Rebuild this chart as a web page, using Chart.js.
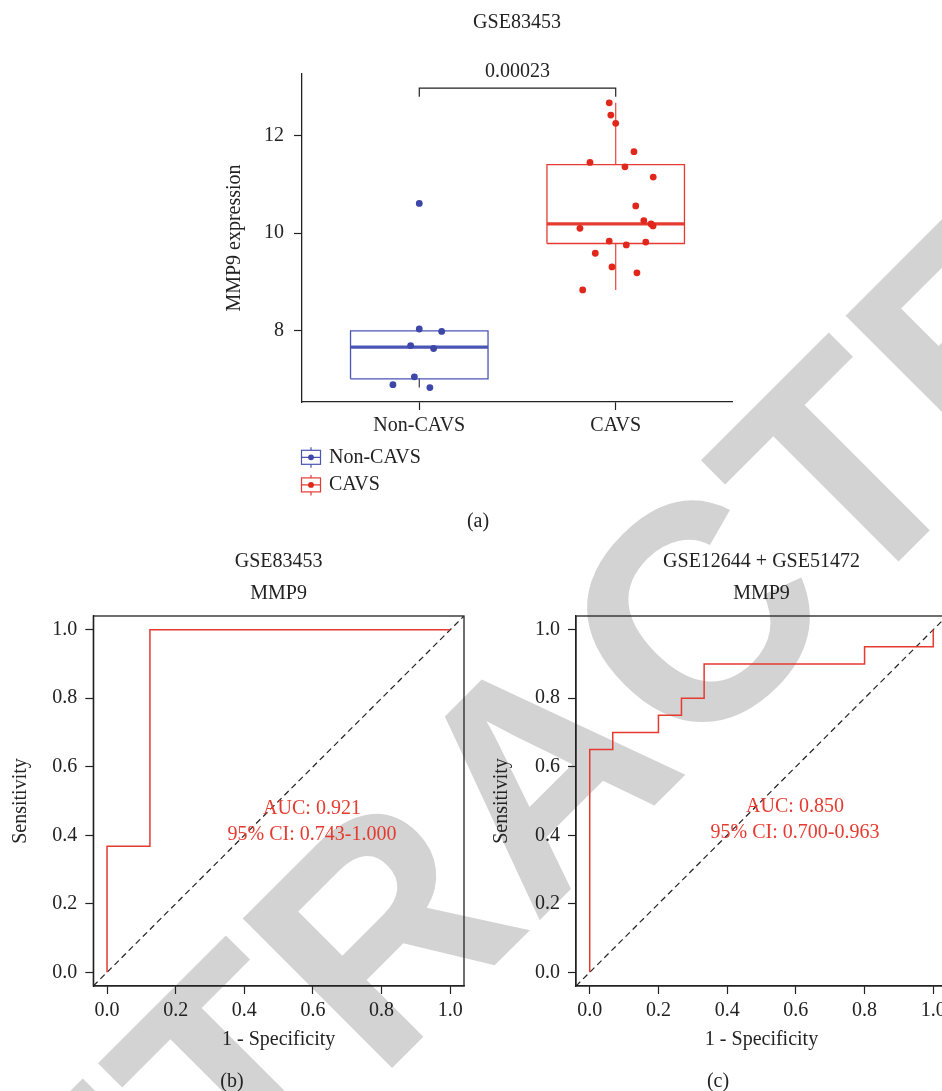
<!DOCTYPE html>
<html lang="en">
<head>
<meta charset="UTF-8">
<title>MMP9 expression and ROC curves</title>
<script src="https://cdn.jsdelivr.net/npm/chart.js"></script>
<style>
  html, body { margin: 0; padding: 0; overflow: hidden; background: #fff; }
  body { width: 942px; height: 1091px; position: relative; }
  canvas { position: absolute; }
</style>
</head>
<body>
<canvas id="watermark" width="942" height="1091" style="left:0;top:0"></canvas>
<canvas id="boxChart" width="942" height="540" style="left:0;top:0"></canvas>
<canvas id="rocB" width="471" height="551" style="left:0;top:540px"></canvas>
<canvas id="rocC" width="480" height="551" style="left:480px;top:540px"></canvas>

<script>
// ---- panel (a) data: MMP9 expression per sample, x jitter
const groups = ['Non-CAVS', 'CAVS'];
const nonCavsExpr = [10.61, 8.04, 7.99, 7.70, 7.64, 7.06, 6.90, 6.84];
const nonCavsJitter = [1.0, 1.0, 1.114, 0.956, 1.073, 0.975, 0.866, 1.054];
const cavsExpr = [12.67, 12.42, 12.25, 11.67, 11.45, 11.36, 11.15, 10.56, 10.26, 10.19,
                  10.15, 10.10, 9.84, 9.82, 9.76, 9.59, 9.31, 9.19, 8.84];
const cavsJitter = [1.967, 1.975, 2.0, 2.093, 1.869, 2.047, 2.191, 2.102, 2.143, 2.180,
                    2.190, 1.818, 1.967, 2.153, 2.054, 1.896, 1.981, 2.108, 1.832];
const exprTicks = [8, 10, 12];
const pValue = '0.00023';

// ---- panels (b) and (c): ROC coordinates (1 - specificity, sensitivity)
const rocTicks = [0, 0.2, 0.4, 0.6, 0.8, 1.0];
const rocB_fpr = [0, 0, 0.125, 0.125, 1];
const rocB_tpr = [0, 0.368, 0.368, 1, 1];
const rocC_fpr = [0, 0, 0.067, 0.067, 0.2, 0.2, 0.267, 0.267, 0.333, 0.333, 0.8, 0.8, 1, 1];
const rocC_tpr = [0, 0.65, 0.65, 0.7, 0.7, 0.75, 0.75, 0.8, 0.8, 0.9, 0.9, 0.95, 0.95, 1];

const pointColors = ['#3d47a8', '#e1261c'];
const boxColors = ['#4a56b4', '#e53b32'];
const whiskerColors = ['#3a3a52', '#e5463d'];
const textColor = '#222';
const rocRed = '#e53a30';

Chart.defaults.font.family = '"Liberation Serif", "DejaVu Serif", serif';
Chart.defaults.font.size = 20;
Chart.defaults.color = textColor;

// R quantile type 7
function quantile(sorted, p) {
    const h = (sorted.length - 1) * p;
    const lo = Math.floor(h);
    const hi = Math.min(lo + 1, sorted.length - 1);
    return sorted[lo] + (h - lo) * (sorted[hi] - sorted[lo]);
}

function boxStats(values) {
    const s = [...values].sort((a, b) => a - b);
    const q1 = quantile(s, 0.25), med = quantile(s, 0.5), q3 = quantile(s, 0.75);
    const iqr = q3 - q1;
    const lo = Math.min(...s.filter(v => v >= q1 - 1.5 * iqr));
    const hi = Math.max(...s.filter(v => v <= q3 + 1.5 * iqr));
    return { q1, med, q3, lo, hi };
}

function lineSet(data, color, width, dash) {
    return {
        type: 'scatter', data, showLine: true, borderColor: color, borderWidth: width,
        borderDash: dash || [], pointRadius: 0, fill: false, tension: 0
    };
}

// draw plain text items (titles, captions) on a chart
const textPlugin = {
    id: 'texts',
    afterDraw(chart, args, opts) {
        const ctx = chart.ctx;
        (opts.items || []).forEach(it => {
            const pos = typeof it.at === 'function' ? it.at(chart) : it.at;
            ctx.save();
            ctx.font = '20px "Liberation Serif"';
            ctx.fillStyle = it.color || textColor;
            ctx.textAlign = 'center';
            ctx.textBaseline = 'middle';
            ctx.fillText(it.text, pos[0], pos[1]);
            ctx.restore();
        });
    }
};

// ---- watermark behind all panels
(function () {
    const wm = document.getElementById('watermark').getContext('2d');
    wm.fillStyle = '#d3d3d3';
    wm.font = 'bold 307px "Liberation Sans"';
    wm.textAlign = 'center';
    wm.textBaseline = 'alphabetic';
    wm.translate(612.7, 847.3);
    wm.rotate(-Math.PI / 4);
    wm.fillText('RETRACTED', 0, 0);
})();

// ---- panel (a)
const exprByGroup = [nonCavsExpr, cavsExpr];
const jitterByGroup = [nonCavsJitter, cavsJitter];
const boxHalf = 0.35;

const boxDatasets = [];
groups.forEach((g, i) => {
    boxDatasets.push({
        type: 'scatter',
        data: exprByGroup[i].map((v, k) => ({ x: jitterByGroup[i][k], y: v })),
        pointRadius: 3.4, pointBorderWidth: 0, pointBackgroundColor: pointColors[i]
    });
});
groups.forEach((g, i) => {
    const c = i + 1, st = boxStats(exprByGroup[i]);
    boxDatasets.push(lineSet([{ x: c - boxHalf, y: st.med }, { x: c + boxHalf, y: st.med }], boxColors[i], 3.3));
    boxDatasets.push(lineSet([
        { x: c - boxHalf, y: st.q1 }, { x: c + boxHalf, y: st.q1 }, { x: c + boxHalf, y: st.q3 },
        { x: c - boxHalf, y: st.q3 }, { x: c - boxHalf, y: st.q1 }], boxColors[i], 1.3));
    boxDatasets.push(lineSet([{ x: c, y: st.q3 }, { x: c, y: st.hi }], whiskerColors[i], 1.2));
    boxDatasets.push(lineSet([{ x: c, y: st.q1 }, { x: c, y: st.lo }], whiskerColors[i], 1.2));
});

const bracketPlugin = {
    id: 'bracket',
    afterDraw(chart) {
        const ctx = chart.ctx, xs = chart.scales.x, ys = chart.scales.y;
        const x1 = xs.getPixelForValue(1), x2 = xs.getPixelForValue(2);
        const yb = ys.getPixelForValue(12.97);
        ctx.save();
        ctx.strokeStyle = textColor; ctx.lineWidth = 1.2;
        ctx.beginPath();
        ctx.moveTo(x1, yb + 8.5); ctx.lineTo(x1, yb); ctx.lineTo(x2, yb); ctx.lineTo(x2, yb + 8.5);
        ctx.stroke();
        ctx.font = '20px "Liberation Serif"'; ctx.fillStyle = textColor;
        ctx.textAlign = 'center'; ctx.textBaseline = 'middle';
        ctx.fillText(pValue, (x1 + x2) / 2, yb - 16.5);
        ctx.restore();
    }
};

const legendPlugin = {
    id: 'groupLegend',
    afterDraw(chart) {
        const ctx = chart.ctx;
        groups.forEach((g, i) => {
            const cy = 457.3 + i * 27.6, cx = 311;
            ctx.save();
            ctx.strokeStyle = boxColors[i]; ctx.lineWidth = 1.2;
            ctx.strokeRect(301.5, cy - 7, 19, 14);
            ctx.beginPath();
            ctx.moveTo(cx, cy - 10); ctx.lineTo(cx, cy - 7);
            ctx.moveTo(cx, cy + 7); ctx.lineTo(cx, cy + 10.5);
            ctx.moveTo(301.5, cy); ctx.lineTo(320.5, cy);
            ctx.stroke();
            ctx.fillStyle = pointColors[i];
            ctx.beginPath(); ctx.arc(cx, cy, 2.9, 0, 2 * Math.PI); ctx.fill();
            ctx.fillStyle = textColor; ctx.font = '20px "Liberation Serif"';
            ctx.textAlign = 'left'; ctx.textBaseline = 'middle';
            ctx.fillText(g, 329, cy);
            ctx.restore();
        });
    }
};

const axisGrid = { display: true, drawOnChartArea: false, drawTicks: true, tickLength: 8, tickColor: textColor, tickWidth: 1.2 };
const axisBorder = { display: true, color: textColor, width: 1.3 };

new Chart(document.getElementById('boxChart'), {
    type: 'scatter',
    data: { datasets: boxDatasets },
    options: {
        responsive: false, animation: false, events: [], devicePixelRatio: 1,
        layout: { padding: { left: 200, right: 210, top: 74, bottom: 98 } },
        plugins: {
            legend: { display: false }, tooltip: { enabled: false },
            texts: { items: [
                { text: 'GSE83453', at: c => [(c.chartArea.left + c.chartArea.right) / 2, 22.5] },
                { text: '(a)', at: [478, 522] }
            ] }
        },
        scales: {
            x: {
                type: 'linear', min: 0.403, max: 2.592,
                afterBuildTicks: s => { s.ticks = groups.map((g, i) => ({ value: i + 1 })); },
                afterFit: s => { s.height = 40; },
                ticks: { padding: 4, autoSkip: false, maxRotation: 0, callback: (v, i) => groups[i] },
                grid: axisGrid, border: axisBorder
            },
            y: {
                type: 'linear', min: 6.545, max: 13.26,
                afterBuildTicks: s => { s.ticks = exprTicks.map(v => ({ value: v })); },
                afterFit: s => { s.width = 102; },
                ticks: { padding: 10, autoSkip: false },
                grid: axisGrid, border: axisBorder,
                title: { display: true, text: 'MMP9 expression', padding: { top: 23, bottom: 0 } }
            }
        }
    },
    plugins: [textPlugin, bracketPlugin, legendPlugin]
});

// ---- panels (b), (c)
const frameBox = {
    id: 'frameBox',
    afterDraw(chart) {
        const a = chart.chartArea, ctx = chart.ctx;
        ctx.save();
        ctx.strokeStyle = textColor; ctx.lineWidth = 1.3;
        ctx.strokeRect(a.left, a.top, a.right - a.left, a.bottom - a.top);
        ctx.restore();
    }
};

function rocChart(id, fpr, tpr, opt) {
    const lim = [-0.04, 1.04];
    const centerX = c => (c.chartArea.left + c.chartArea.right) / 2;
    new Chart(document.getElementById(id), {
        type: 'scatter',
        data: {
            datasets: [
                lineSet(fpr.map((x, i) => ({ x, y: tpr[i] })), rocRed, 1.5),
                lineSet([{ x: lim[0], y: lim[0] }, { x: lim[1], y: lim[1] }], textColor, 1.2, [6, 4])
            ]
        },
        options: {
            responsive: false, animation: false, events: [], devicePixelRatio: 1,
            layout: { padding: { left: 0, right: opt.padRight, top: 76, bottom: 0 } },
            plugins: {
                legend: { display: false }, tooltip: { enabled: false },
                texts: { items: [
                    { text: opt.title, at: c => [centerX(c), 21.7] },
                    { text: 'MMP9', at: c => [centerX(c), 54.2] },
                    { text: opt.auc, color: rocRed, at: [opt.textX, opt.textY] },
                    { text: opt.ci, color: rocRed, at: [opt.textX, opt.textY + 26] },
                    { text: opt.caption, at: [opt.captionX, 541.5] }
                ] }
            },
            scales: {
                x: {
                    type: 'linear', min: lim[0], max: lim[1],
                    afterBuildTicks: s => { s.ticks = rocTicks.map(v => ({ value: v })); },
                    afterFit: s => { s.height = 105; },
                    ticks: { padding: 4.5, autoSkip: false, maxRotation: 0, callback: v => v.toFixed(1) },
                    grid: axisGrid, border: axisBorder,
                    title: { display: true, text: '1 - Specificity', padding: { top: 0, bottom: 39 } }
                },
                y: {
                    type: 'linear', min: lim[0], max: lim[1],
                    afterBuildTicks: s => { s.ticks = rocTicks.map(v => ({ value: v })); },
                    afterFit: s => { s.width = opt.yWidth; },
                    ticks: { padding: 8, autoSkip: false, callback: v => v.toFixed(1) },
                    grid: axisGrid, border: axisBorder,
                    title: { display: true, text: 'Sensitivity', padding: { top: opt.yTitlePad, bottom: 0 } }
                }
            }
        },
        plugins: [textPlugin, frameBox]
    });
}

rocChart('rocB', rocB_fpr, rocB_tpr, {
    title: 'GSE83453', auc: 'AUC: 0.921', ci: '95% CI: 0.743-1.000',
    textX: 312, textY: 268.5, caption: '(b)', captionX: 232,
    yWidth: 93.3, yTitlePad: 8.5, padRight: 7
});
rocChart('rocC', rocC_fpr, rocC_tpr, {
    title: 'GSE12644 + GSE51472', auc: 'AUC: 0.850', ci: '95% CI: 0.700-0.963',
    textX: 315, textY: 266.3, caption: '(c)', captionX: 238,
    yWidth: 96, yTitlePad: 10, padRight: 13
});
</script>
</body>
</html>
